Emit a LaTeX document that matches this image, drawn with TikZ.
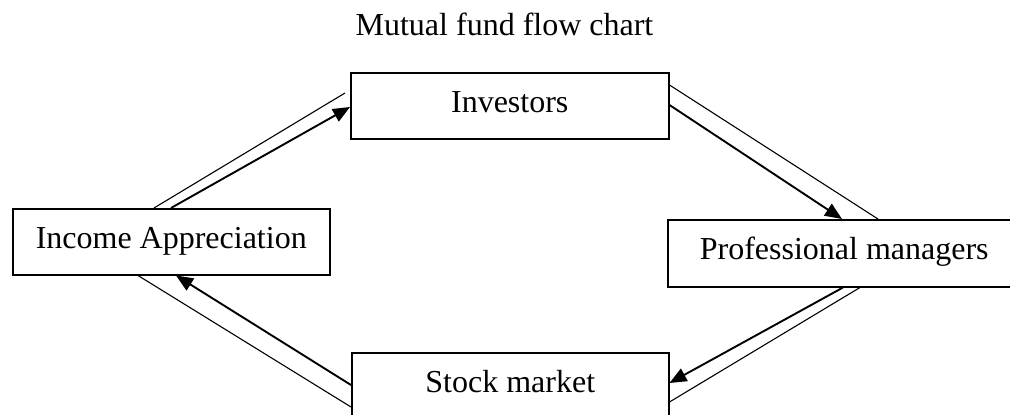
\documentclass[tikz,border=0pt]{standalone}
\usepackage{fontspec}
\setmainfont{Liberation Serif}
\usetikzlibrary{arrows.meta}
\begin{document}
\begin{tikzpicture}[x=1pt,y=-1pt,
  box/.style={draw,line width=1.5pt,inner sep=0pt,anchor=north west,
    text height=22pt,text depth=9pt,font=\fontsize{32}{38}\selectfont},
  thin/.style={line width=1.1pt},
  flow/.style={line width=1.9pt,-{Triangle[length=17pt,width=14pt]}}]
\useasboundingbox (0,0) rectangle (1010,415);
\clip (0,0) rectangle (1010,415);
\node[anchor=base,font=\fontsize{32}{38}\selectfont] (title) at (504.5,35) {Mutual fund flow chart};
\node[box,minimum width=318pt,minimum height=66pt] (inv) at (350,72) {Investors};
\node[box,minimum width=317pt,minimum height=66pt] (inc) at (12,208) {Income Appreciation};
\node[box,minimum width=353pt,minimum height=67pt] (pro) at (667,219) {Professional managers};
\node[box,minimum width=317pt,minimum height=66pt] (stk) at (351,352) {Stock market};
% Income -> Investors
\draw[thin] ([xshift=142pt]inc.north west) -- ([xshift=-5pt,yshift=-21pt]inv.north west);
\draw[flow] ([xshift=159pt]inc.north west) -- ([yshift=-35pt]inv.north west);
% Investors -> Professional managers
\draw[thin] ([yshift=-13pt]inv.north east) -- ([xshift=211pt]pro.north west);
\draw[flow] ([yshift=-33pt]inv.north east) -- ([xshift=175pt]pro.north west);
% Professional managers -> Stock market
\draw[flow] ([xshift=176pt]pro.south west) -- ([yshift=-31pt]stk.north east);
\draw[thin] ([xshift=193pt]pro.south west) -- ([yshift=-50pt]stk.north east);
% Stock market -> Income
\draw[flow] ([yshift=-33pt]stk.north west) -- ([xshift=164pt]inc.south west);
\draw[thin] ([yshift=-55pt]stk.north west) -- ([xshift=126pt]inc.south west);
\end{tikzpicture}
\end{document}
